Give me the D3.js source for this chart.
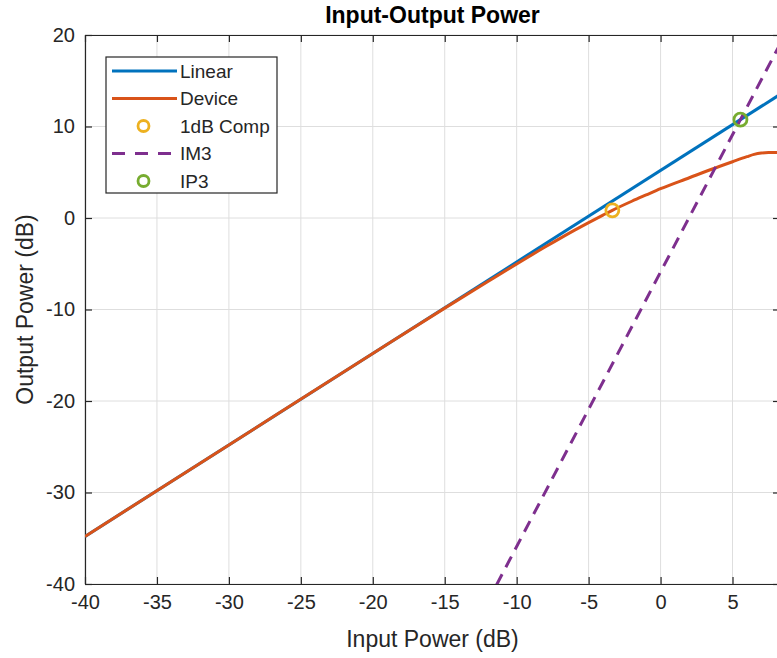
<!DOCTYPE html>
<html>
<head>
<meta charset="utf-8">
<script src="https://cdn.jsdelivr.net/npm/d3@7"></script>
<style>
  html, body { margin: 0; padding: 0; background: #ffffff; }
  svg { display: block; font-family: "Liberation Sans", Arial, Helvetica, sans-serif; }
</style>
</head>
<body>
<svg id="chart" width="777" height="658"></svg>
<script>
// Input/output power curves of an amplifier (dB)
const xTicks = [-40, -35, -30, -25, -20, -15, -10, -5, 0, 5];
const yTicks = [-40, -30, -20, -10, 0, 10, 20];

const linearIn  = [-40, 8.3];
const linearOut = [-34.8, 13.5];

const deviceIn  = [-40, -30, -20, -15, -12, -10, -8, -6, -4, -3.35, -2, -1, 0, 2, 3.5, 5, 6, 6.5, 7, 7.5, 8.3];
const deviceOut = [-34.8, -24.8, -14.8, -9.85, -6.94, -5.02, -3.15, -1.35, 0.32, 0.84, 1.83, 2.52, 3.2, 4.4, 5.3, 6.15, 6.7, 6.95, 7.1, 7.15, 7.15];

const im3In  = [-11.4, 8.3];
const im3Out = [-40.1, 19.0];

const comp1dB = { x: -3.35, y: 0.84 };
const ip3     = { x: 5.55,  y: 10.75 };

const legendItems = [
  { label: "Linear",   color: "#0072BD", type: "line" },
  { label: "Device",   color: "#D95319", type: "line" },
  { label: "1dB Comp", color: "#EDB120", type: "marker" },
  { label: "IM3",      color: "#7E2F8E", type: "dash" },
  { label: "IP3",      color: "#77AC30", type: "marker" }
];

const svg = d3.select("#chart");
const plotLeft = 85, plotRight = 780, plotTop = 35, plotBottom = 584;
const axisColor = "#262626";
const tickFont = 20, labelFont = 23;

const x = d3.scaleLinear().domain([-40, 8.3]).range([plotLeft, plotRight]);
const y = d3.scaleLinear().domain([-40, 20]).range([plotBottom, plotTop]);
const plainNumber = d => String(d);

svg.append("defs").append("clipPath").attr("id", "plotClip")
  .append("rect").attr("x", plotLeft).attr("y", plotTop)
  .attr("width", plotRight - plotLeft).attr("height", plotBottom - plotTop);

// grid
const grid = svg.append("g").attr("stroke", "#dedede").attr("stroke-width", 1);
xTicks.forEach(t => grid.append("line")
  .attr("x1", x(t)).attr("x2", x(t)).attr("y1", plotTop).attr("y2", plotBottom));
yTicks.forEach(t => grid.append("line")
  .attr("x1", plotLeft).attr("x2", plotRight).attr("y1", y(t)).attr("y2", y(t)));

// axes (bottom / left with labels, top / right as box with inward ticks)
const tickLen = 7;
const xAxis = svg.append("g").attr("transform", `translate(0,${plotBottom})`)
  .call(d3.axisBottom(x).tickValues(xTicks).tickFormat(plainNumber)
    .tickSizeInner(-tickLen).tickSizeOuter(0).tickPadding(11));
const yAxis = svg.append("g").attr("transform", `translate(${plotLeft},0)`)
  .call(d3.axisLeft(y).tickValues(yTicks).tickFormat(plainNumber)
    .tickSizeInner(-tickLen).tickSizeOuter(0).tickPadding(10));
const xTop = svg.append("g").attr("transform", `translate(0,${plotTop})`)
  .call(d3.axisTop(x).tickValues(xTicks).tickSizeInner(-tickLen).tickSizeOuter(0).tickFormat(""));
const yRight = svg.append("g").attr("transform", `translate(${plotRight},0)`)
  .call(d3.axisRight(y).tickValues(yTicks).tickSizeInner(-tickLen).tickSizeOuter(0).tickFormat(""));

[xAxis, yAxis, xTop, yRight].forEach(g => {
  g.select(".domain").attr("stroke", axisColor).attr("stroke-width", 1.2);
  g.selectAll(".tick line").attr("stroke", axisColor).attr("stroke-width", 1.2);
  g.selectAll(".tick text").attr("fill", axisColor).attr("font-size", tickFont)
    .attr("font-family", "Liberation Sans, Arial, sans-serif");
});

// data lines
const plot = svg.append("g").attr("clip-path", "url(#plotClip)");
const line = d3.line().x(d => x(d[0])).y(d => y(d[1]));
const smooth = d3.line().x(d => x(d[0])).y(d => y(d[1])).curve(d3.curveMonotoneX);

plot.append("path").datum(d3.zip(linearIn, linearOut))
  .attr("d", line).attr("fill", "none").attr("stroke", "#0072BD").attr("stroke-width", 3);
plot.append("path").datum(d3.zip(deviceIn, deviceOut))
  .attr("d", smooth).attr("fill", "none").attr("stroke", "#D95319").attr("stroke-width", 3);
plot.append("circle").attr("cx", x(comp1dB.x)).attr("cy", y(comp1dB.y)).attr("r", 6.5)
  .attr("fill", "none").attr("stroke", "#EDB120").attr("stroke-width", 2.8);
plot.append("path").datum(d3.zip(im3In, im3Out))
  .attr("d", line).attr("fill", "none").attr("stroke", "#7E2F8E").attr("stroke-width", 3)
  .attr("stroke-dasharray", "12,8");
plot.append("circle").attr("cx", x(ip3.x)).attr("cy", y(ip3.y)).attr("r", 6.5)
  .attr("fill", "none").attr("stroke", "#77AC30").attr("stroke-width", 2.8);

// titles
svg.append("text").attr("x", (plotLeft + plotRight) / 2).attr("y", 15)
  .attr("text-anchor", "middle").attr("dominant-baseline", "central")
  .attr("font-size", 23).attr("font-weight", "bold").attr("fill", "#000")
  .text("Input-Output Power");
svg.append("text").attr("x", (plotLeft + plotRight) / 2).attr("y", 639)
  .attr("text-anchor", "middle").attr("dominant-baseline", "central")
  .attr("font-size", labelFont).attr("fill", axisColor).text("Input Power (dB)");
svg.append("text").attr("transform", `translate(25,${(plotTop + plotBottom) / 2}) rotate(-90)`)
  .attr("text-anchor", "middle").attr("dominant-baseline", "central")
  .attr("font-size", labelFont).attr("fill", axisColor).text("Output Power (dB)");

// legend
const lg = svg.append("g");
lg.append("rect").attr("x", 106).attr("y", 57).attr("width", 171).attr("height", 136)
  .attr("fill", "#fff").attr("stroke", axisColor).attr("stroke-width", 1.2);
legendItems.forEach((d, i) => {
  const cy = 71 + i * 27.5;
  if (d.type === "marker") {
    lg.append("circle").attr("cx", 143.5).attr("cy", cy).attr("r", 5.5)
      .attr("fill", "none").attr("stroke", d.color).attr("stroke-width", 2.8);
  } else {
    lg.append("line").attr("x1", 112).attr("x2", 177).attr("y1", cy).attr("y2", cy)
      .attr("stroke", d.color).attr("stroke-width", 3)
      .attr("stroke-dasharray", d.type === "dash" ? "13,10" : null);
  }
  lg.append("text").attr("x", 180).attr("y", cy).attr("dominant-baseline", "central")
    .attr("font-size", 19).attr("fill", axisColor).text(d.label);
});
</script>
</body>
</html>
